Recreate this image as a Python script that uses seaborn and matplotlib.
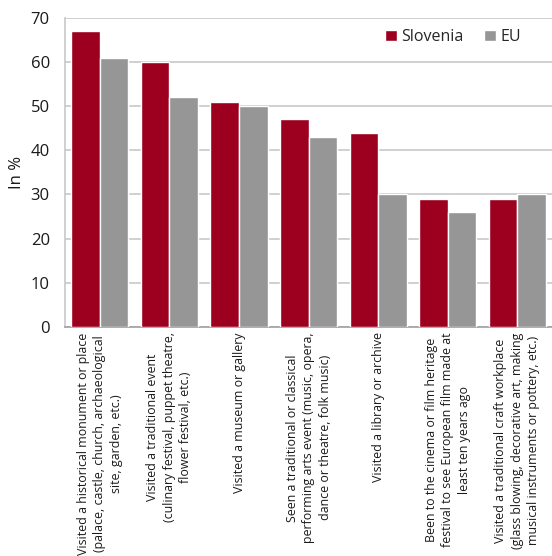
import matplotlib
matplotlib.use("Agg")
import matplotlib.pyplot as plt
import seaborn as sns
import pandas as pd

categories = [
    "Visited a historical monument or place\n(palace, castle, church, archaeological\nsite, garden, etc.)",
    "Visited a traditional event\n(culinary festival, puppet theatre,\nflower festival, etc.)",
    "Visited a museum or gallery",
    "Seen a traditional or classical\nperforming arts event (music, opera,\ndance or theatre, folk music)",
    "Visited a library or archive",
    "Been to the cinema or film heritage\nfestival to see European film made at\nleast ten years ago",
    "Visited a traditional craft workplace\n(glass blowing, decorative art, making\nmusical instruments or pottery, etc.)",
]
slovenia = [67, 60, 51, 47, 44, 29, 29]
eu = [61, 52, 50, 43, 30, 26, 30]
series = ["Slovenia", "EU"]
colors = ["#9c001e", "#969696"]

df = pd.DataFrame({
    "category": categories * 2,
    "value": slovenia + eu,
    "series": [series[0]] * len(categories) + [series[1]] * len(categories),
})

sns.set_theme(style="white")
plt.rcParams["font.family"] = ["Open Sans", "DejaVu Sans"]

fig = plt.figure(figsize=(5.52, 5.56), dpi=100)
ax = fig.add_axes([0.118, 0.412, 0.882, 0.556])

sns.barplot(data=df, x="category", y="value", hue="series", order=categories,
            hue_order=series, palette=colors, width=0.82, saturation=1,
            ax=ax, zorder=3)

ax.set_ylim(0, 70)
ax.set_xlim(-0.5, 6.5)
ax.set_yticks(range(0, 71, 10))
ax.yaxis.grid(True, color="#c8c8c8", linewidth=1.2, zorder=0)
ax.set_axisbelow(True)
ax.tick_params(axis="both", length=0, colors="#1a1a1a")
ax.tick_params(axis="y", pad=11, labelsize=12)
ax.tick_params(axis="x", pad=4)
ax.set_xticks(range(len(categories)))
ax.set_xticklabels(categories, rotation=90, ha="center", va="top",
                   multialignment="center", fontsize=8.9, linespacing=1.35)
ax.set_xlabel("")
ax.set_ylabel("In %", fontsize=12, color="#1a1a1a", labelpad=4)

for side in ["top", "right"]:
    ax.spines[side].set_visible(False)
ax.spines["left"].set_color("#c8c8c8")
ax.spines["bottom"].set_color("#a0a0a0")
ax.spines["left"].set_linewidth(1.2)
ax.spines["bottom"].set_linewidth(1.2)

leg = ax.legend(loc="upper right", bbox_to_anchor=(0.966, 1.01), ncol=2,
                frameon=False, fontsize=11.5, handlelength=0.7, handleheight=0.7,
                handletextpad=0.3, columnspacing=1.3)

fig.savefig("out.png", dpi=100)
